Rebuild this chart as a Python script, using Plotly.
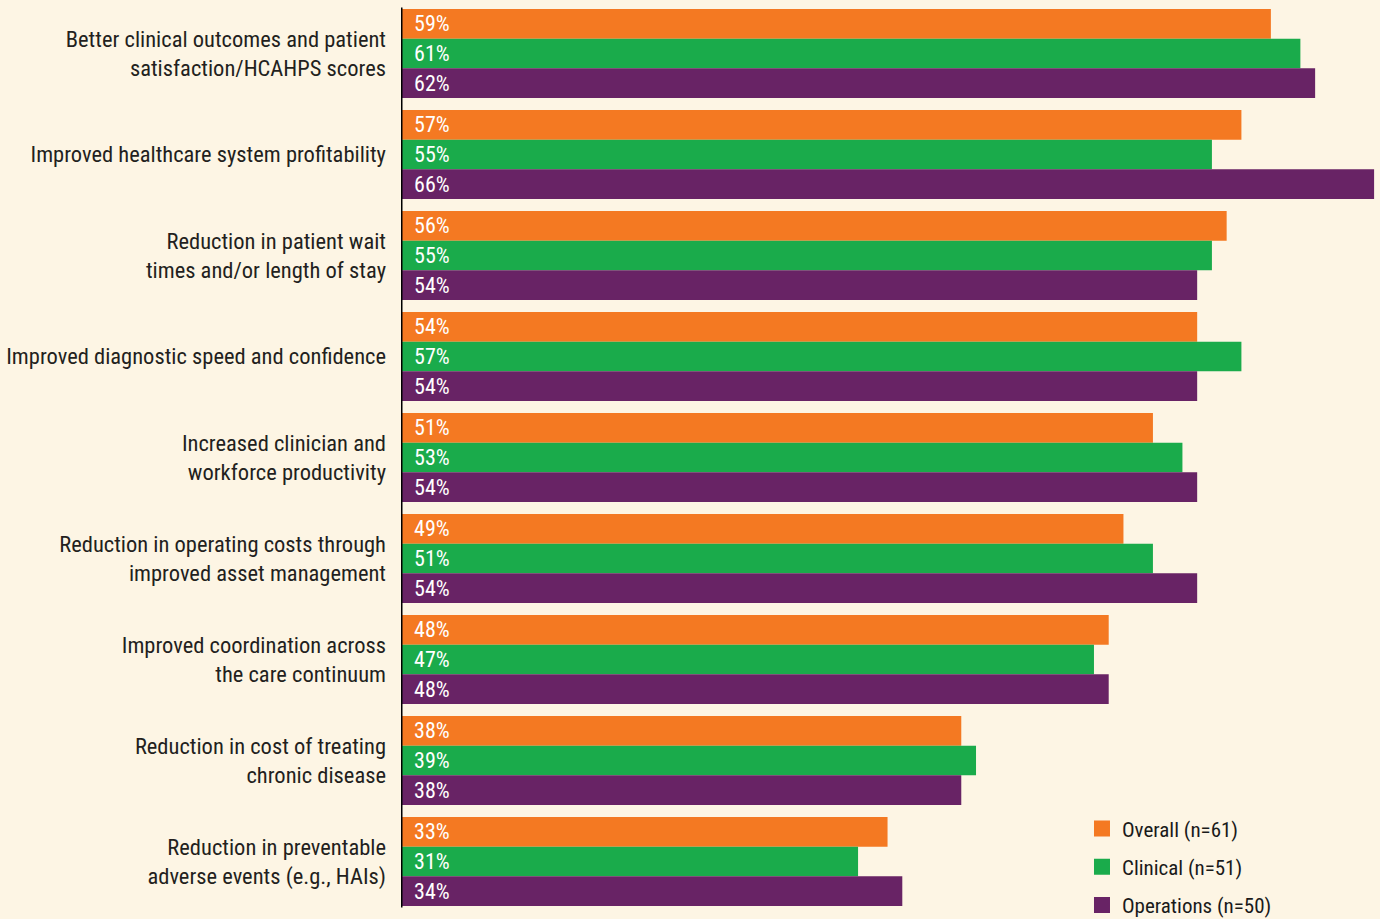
import plotly.graph_objects as go

categories = [
    "Better clinical outcomes and patient<br>satisfaction/HCAHPS scores",
    "Improved healthcare system profitability",
    "Reduction in patient wait<br>times and/or length of stay",
    "Improved diagnostic speed and confidence",
    "Increased clinician and<br>workforce productivity",
    "Reduction in operating costs through<br>improved asset management",
    "Improved coordination across<br>the care continuum",
    "Reduction in cost of treating<br>chronic disease",
    "Reduction in preventable<br>adverse events (e.g., HAIs)",
]
overall = [59, 57, 56, 54, 51, 49, 48, 38, 33]
clinical = [61, 55, 55, 57, 53, 51, 47, 39, 31]
operations = [62, 66, 54, 54, 54, 54, 48, 38, 34]

series = [
    ("Overall (n=61)", overall, "#F47922"),
    ("Clinical (n=51)", clinical, "#1AAB4B"),
    ("Operations (n=50)", operations, "#682365"),
]

FONT = "Liberation Sans Narrow, Roboto Condensed, DejaVu Sans Condensed, Arial Narrow, sans-serif"
BG = "#FDF5E4"

fig = go.Figure()
for i, (name, vals, color) in enumerate(series):
    fig.add_trace(go.Bar(
        y=categories, x=vals, orientation="h", name=name,
        marker=dict(color=color, line=dict(width=0)),
        text=[f"{v}%" for v in vals],
        texttemplate="\u00a0\u00a0%{text}",
        textposition="inside", insidetextanchor="start",
        textfont=dict(family=FONT, size=22, color="white"),
        constraintext="none",
        showlegend=False,
    ))
    fig.add_trace(go.Scatter(
        x=[None], y=[None], mode="markers", name=name,
        marker=dict(symbol="square", size=18, color=color),
        legendgroup=f"g{i}", showlegend=True,
    ))

fig.update_layout(
    width=1380, height=919,
    barmode="group", bargap=0.12, bargroupgap=0,
    paper_bgcolor=BG, plot_bgcolor=BG,
    margin=dict(l=401, r=0, t=2.5, b=6.5, autoexpand=False),
    font=dict(family=FONT, color="#231F20"),
    xaxis=dict(range=[0, 66.4], visible=False, showgrid=False, zeroline=False),
    yaxis=dict(autorange="reversed", showgrid=False, zeroline=False,
               showline=False, ticks="", ticklabelstandoff=14,
               tickfont=dict(family=FONT, size=22.5, color="#231F20")),
    legend=dict(x=0.6956, y=0.114, xanchor="left", yanchor="top",
                bgcolor="rgba(0,0,0,0)", traceorder="grouped",
                tracegroupgap=8, itemsizing="trace",
                font=dict(family=FONT, size=21, color="#1a1a1a")),
    shapes=[dict(type="line", xref="x", yref="paper", x0=0, x1=0,
                 y0=0.005, y1=0.995, line=dict(color="black", width=3))],
)

fig.write_html("out.html",
               config={"displayModeBar": False},
               post_script="document.body.style.margin='0';document.body.style.background='" + BG + "';")
